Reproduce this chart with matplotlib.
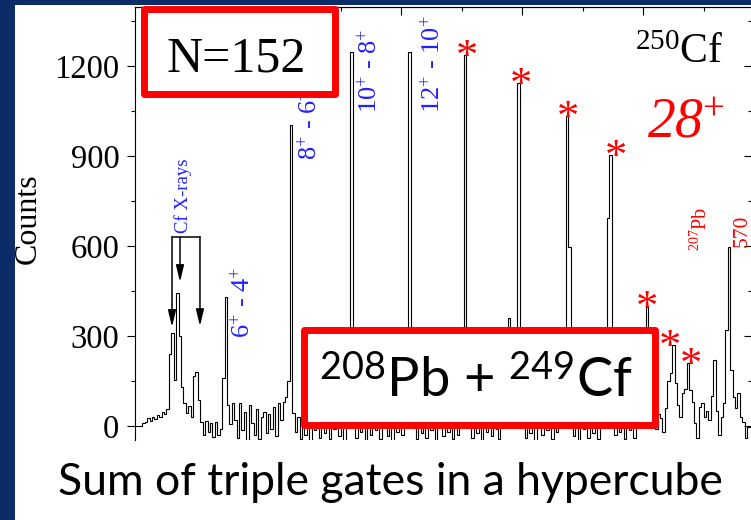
import numpy as np
import matplotlib
matplotlib.use('Agg')
import matplotlib.pyplot as plt
from matplotlib.patches import Rectangle
from matplotlib.ticker import MultipleLocator

plt.rcParams['font.family'] = ['Liberation Serif', 'DejaVu Serif']
plt.rcParams['mathtext.fontset'] = 'custom'
plt.rcParams['mathtext.rm'] = 'Liberation Serif'
plt.rcParams['mathtext.it'] = 'Liberation Serif:italic'
plt.rcParams['mathtext.sf'] = 'Lato'

# gamma spectrum, 2 keV per channel starting at 80 keV
first_energy = 80
channel_width = 2
counts = [
    0, 0, 0, 10, 12, 25, 15, 30, 22, 38,
    30, 48, 40, 55, 240, 310, 153, 442, 300, 130,
    75, 42, 65, 30, 165, 181, 87, 14, -30, 15,
    -20, 10, -38, 12, -30, -10, 160, 431, 70, 5,
    78, 20, -40, 75, -15, 45, -48, 70, 10, -30,
    55, -42, 30, 48, -25, 40, -10, 62, -35, 75,
    20, 80, 95, 150, 1003, 43, -20, 30, -45, 15,
    -30, 40, -50, 10, -15, 35, -40, 5, -25, 50,
    -45, 20, -10, 30, -35, 15, -50, 60, 150, 1248,
    40, -40, 20, -20, 35, -48, 10, -30, 25, -15,
    45, -45, 5, 30, -35, 20, -50, 15, -20, 40,
    -30, 10, 55, 1248, 60, 30, -45, 20, -25, 10,
    -40, 35, -15, 25, -50, 5, 30, -35, 15, -20,
    40, -45, 10, -30, 20, 60, 1237, 150, 35, -40,
    15, -25, 45, -50, 10, -20, 30, -35, 25, -10,
    -45, 20, 50, 120, 360, 80, 40, 60, 1142, 120,
    30, -40, 15, -25, 35, -50, 5, 20, -30, 40,
    -15, 25, -45, 10, -20, 30, 50, 110, 1033, 597,
    40, -35, 15, -50, 25, -10, 35, -40, 10, -25,
    30, -45, 20, 60, 150, 693, 903, 80, -30, 15,
    -20, 35, -45, 10, -15, 25, -40, 30, 55, 120,
    200, 398, 130, 60, 20, -10, 40, 25, -20, 60,
    150, 177, 270, 143, 70, 30, 110, 123, 210, 120,
    80, 10, -40, 63, 77, 30, 50, 20, 100, 220,
    50, -30, 30, 77, 320, 598, 187, 98, 60, 110,
    30, 13, -40, -3, -3,
]

# Cf X-ray markers (keV) and where the arrows end (counts)
xray_energy = [110.6, 117.2, 133.7]
xray_tip = [330, 480, 333]
xray_top = 630

# ground band transitions: label, energy at baseline start, counts
band_labels = [r'$6^{+}$ - $4^{+}$', r'$8^{+}$ - $6^{+}$',
               r'$10^{+}$ - $8^{+}$', r'$12^{+}$ - $10^{+}$']
band_label_energy = [175.0, 230.4, 280.0, 332.1]
band_label_counts = [293, 887, 1043, 1043]

# peaks marked with a star (channel energies)
star_energy = [353, 397, 437, 473, 503, 525, 537]
star_shift = [1, 1.5, 1, 4, 0.5, -2.5, 2.5]   # points

W, H = 751, 520
fig = plt.figure(figsize=(W / 100, H / 100), dpi=100, facecolor='#0b2c68')


def fx(x):
    return x / W


def fy(y):
    return 1 - y / H


fig.add_artist(Rectangle((fx(15), 0), 1 - fx(15), fy(5), facecolor='white',
                         edgecolor='none', zorder=-1))

ax = fig.add_axes([fx(135), fy(440), (752 - 135) / W, (440 - 7) / H])
ax.set_facecolor('white')
edges = first_energy + channel_width * np.arange(len(counts) + 1)
ax.stairs(counts, edges, baseline=None, color='black', lw=0.8)
ax.set_xlim(80, 590)
ax.set_ylim(-46.7, 1396.7)

for s in ['bottom', 'right']:
    ax.spines[s].set_visible(False)
for s in ['left', 'top']:
    ax.spines[s].set_linewidth(0.8)
ax.tick_params(axis='x', which='both', bottom=False, labelbottom=False)
ax.yaxis.set_major_locator(MultipleLocator(300))
ax.yaxis.set_minor_locator(MultipleLocator(150))
ax.tick_params(axis='y', which='major', direction='out', length=5.8, width=0.8,
               labelsize=23.5, pad=5.5)
ax.tick_params(axis='y', which='minor', direction='out', length=3.2, width=0.8)

secx = ax.secondary_xaxis('top')
secx.xaxis.set_major_locator(MultipleLocator(100))
secx.xaxis.set_minor_locator(MultipleLocator(50))
secx.tick_params(which='major', direction='in', length=5.8, width=0.8, labeltop=False)
secx.tick_params(which='minor', direction='in', length=3.2, width=0.8)
secx.spines['top'].set_linewidth(0.8)

secy = ax.secondary_yaxis('right')
secy.yaxis.set_major_locator(MultipleLocator(300))
secy.yaxis.set_minor_locator(MultipleLocator(150))
secy.tick_params(which='major', direction='in', length=5.8, width=0.8, labelright=False)
secy.tick_params(which='minor', direction='in', length=3.2, width=0.8)
secy.spines['right'].set_visible(False)

# X-ray bracket and arrows
ax.plot([xray_energy[0], xray_energy[-1]], [xray_top, xray_top], color='black', lw=1.1)
for e, tip in zip(xray_energy, xray_tip):
    ax.annotate('', xy=(e, tip), xytext=(e, xray_top),
                arrowprops=dict(arrowstyle='-|>,head_length=0.5,head_width=0.12',
                                color='black', lw=1.1, shrinkA=0, shrinkB=0,
                                mutation_scale=20))
ax.text(123.8, 643, 'Cf X-rays', rotation=90, rotation_mode='anchor', ha='left',
        va='baseline', color='#2020ff', fontsize=13.5)

for lab, e, c in zip(band_labels, band_label_energy, band_label_counts):
    ax.text(e, c, lab, rotation=90, rotation_mode='anchor', ha='left',
            va='baseline', color='#2020ff', fontsize=19)

ax.text(552.4, 583, r'$^{207}$Pb', rotation=90, rotation_mode='anchor', ha='left',
        va='baseline', color='red', fontsize=14.5)
ax.text(585.8, 597, '570', rotation=90, rotation_mode='anchor', ha='left',
        va='baseline', color='red', fontsize=15.5)

for e, dx in zip(star_energy, star_shift):
    c = counts[int((e - first_energy) // channel_width)]
    ax.annotate('*', xy=(e, c), xytext=(dx, -10), textcoords='offset points',
                ha='center', va='baseline', color='red', fontsize=32)

# framed labels
for x0, y0, x1, y1 in [(143.5, 8.5, 334.5, 93.5), (303.5, 329.5, 654.5, 424.5)]:
    fig.add_artist(Rectangle((fx(x0), fy(y1)), fx(x1) - fx(x0), fy(y0) - fy(y1),
                             facecolor='white', edgecolor='#ff0000', lw=5.0,
                             joinstyle='round', zorder=5))

fig.text(fx(236), fy(71.5), 'N=152', ha='center', va='baseline', fontsize=36, zorder=6)
fig.text(fx(475.5), fy(397), r'$^{\mathsf{208}}$Pb + $^{\mathsf{249}}$Cf',
         family='Lato', ha='center', va='baseline', fontsize=39, zorder=6)
fig.text(fx(679), fy(63), r'$^{250}$Cf', ha='center', va='baseline', fontsize=30)
fig.text(fx(647), fy(138), r'28$^{+}$', ha='left', va='baseline', style='italic',
         color='red', fontsize=40)
fig.text(fx(28), fy(219), 'Counts', rotation=90, ha='center', va='center', fontsize=23)
fig.text(fx(390), fy(495), 'Sum of triple gates in a hypercube', family='Lato',
         ha='center', va='baseline', fontsize=32)

fig.savefig('out.png', dpi=100, facecolor=fig.get_facecolor())
